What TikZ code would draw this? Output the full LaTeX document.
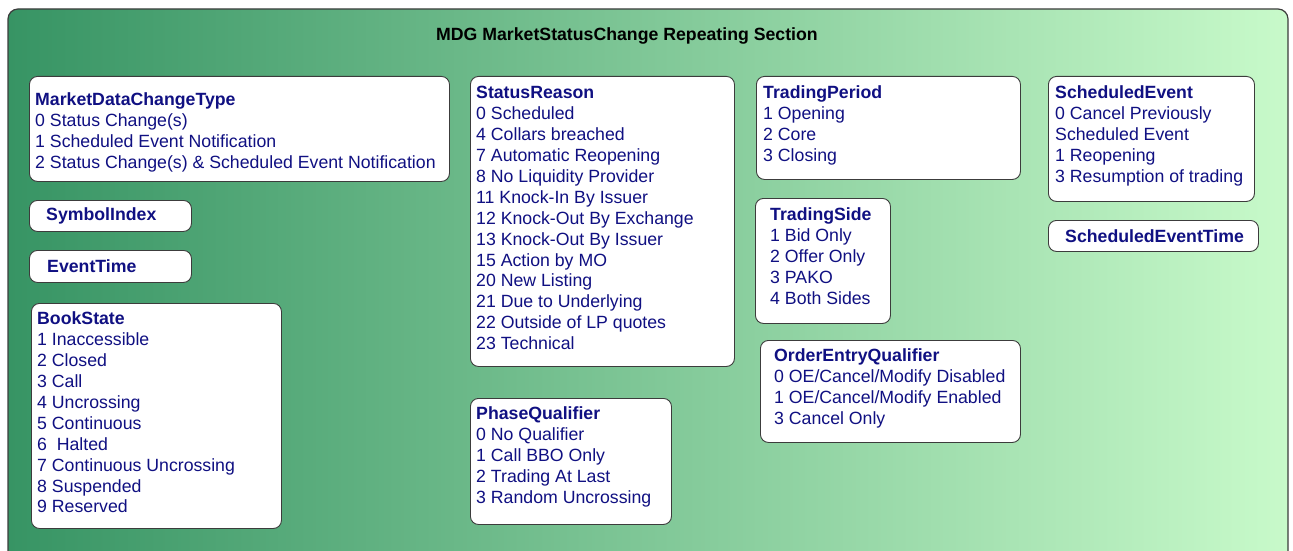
\documentclass[tikz,border=0pt]{standalone}
\usepackage{fontspec}
\setmainfont{Liberation Sans}
\usetikzlibrary{positioning}

\definecolor{mdgblue}{RGB}{16,16,130}
\definecolor{greenL}{RGB}{55,148,100}
\definecolor{greenR}{RGB}{200,250,202}
\definecolor{rimgray}{RGB}{60,60,60}

\newcommand{\hdr}[1]{\strut\textbf{#1}}

\begin{document}
\begin{tikzpicture}[
  x=1pt, y=-1pt,
  section/.style={draw=rimgray, line width=1.2pt, rounded corners=10pt, left color=greenL, right color=greenR},
  panel/.style={draw=rimgray, line width=0.9pt, fill=white, rounded corners=8pt, anchor=north west, inner sep=0pt},
  txt/.style={anchor=north west, inner sep=0pt, align=left, text=mdgblue, font=\fontsize{17.7}{20.9}\selectfont},
  tag/.style={anchor=west, inner sep=0pt, text=mdgblue, font=\fontsize{17.7}{20.9}\selectfont\bfseries},
  title/.style={font=\fontsize{17.7}{20}\selectfont\bfseries, text=black}
]
\useasboundingbox (0,0) rectangle (1293,551);

% Background section
\begin{scope}
  \clip (0,0) rectangle (1293,551);
  \path[section] (8,9) rectangle (1288,580);
\end{scope}
\node[title] (head) at (627,36) {MDG MarketStatusChange Repeating Section};

% Boxes
\node[panel, minimum width=420pt, minimum height=105pt] (chgtype) at (29,76) {};
\node[panel, minimum width=162pt, minimum height=31pt] (symidx) at (29,200) {};
\node[panel, minimum width=162pt, minimum height=32pt] (evtime) at (29,250) {};
\node[panel, minimum width=250pt, minimum height=225pt] (bookst) at (31,303) {};
\node[panel, minimum width=264pt, minimum height=290pt] (statrsn) at (470,76) {};
\node[panel, minimum width=201pt, minimum height=126pt] (phaseq) at (470,398) {};
\node[panel, minimum width=264pt, minimum height=103pt] (tradper) at (756,76) {};
\node[panel, minimum width=135pt, minimum height=125pt] (tradside) at (755,198) {};
\node[panel, minimum width=260pt, minimum height=102pt] (oeq) at (760,340) {};
\node[panel, minimum width=206pt, minimum height=125pt] (schedev) at (1048,76) {};
\node[panel, minimum width=210pt, minimum height=31pt] (schedevt) at (1048,220) {};

% Texts
\node[txt] (chgtype-t) at ([shift={(6,15)}]chgtype.north west)
  {\hdr{MarketDataChangeType}\\0 Status Change(s)\\1 Scheduled Event Notification\\2 Status Change(s) \& Scheduled Event Notification};
\node[tag] (symidx-t) at ([shift={(17,0)}]symidx.west) {SymbolIndex};
\node[tag] (evtime-t) at ([shift={(18,0)}]evtime.west) {EventTime};
\node[txt] (bookst-t) at ([shift={(6,7)}]bookst.north west)
  {\hdr{BookState}\\1 Inaccessible\\2 Closed\\3 Call\\4 Uncrossing\\5 Continuous\\6 \ Halted\\7 Continuous Uncrossing\\8 Suspended\\9 Reserved};
\node[txt] (statrsn-t) at ([shift={(6,8)}]statrsn.north west)
  {\hdr{StatusReason}\\0 Scheduled\\4 Collars breached\\7 Automatic Reopening\\8 No Liquidity Provider\\11 Knock-In By Issuer\\12 Knock-Out By Exchange\\13 Knock-Out By Issuer\\15 Action by MO\\20 New Listing\\21 Due to Underlying\\22 Outside of LP quotes\\23 Technical};
\node[txt] (phaseq-t) at ([shift={(6,7)}]phaseq.north west)
  {\hdr{PhaseQualifier}\\0 No Qualifier\\1 Call BBO Only\\2 Trading At Last\\3 Random Uncrossing};
\node[txt] (tradper-t) at ([shift={(7,8)}]tradper.north west)
  {\hdr{TradingPeriod}\\1 Opening\\2 Core\\3 Closing};
\node[txt] (tradside-t) at ([shift={(15,8)}]tradside.north west)
  {\hdr{TradingSide}\\1 Bid Only\\2 Offer Only\\3 PAKO\\4 Both Sides};
\node[txt] (oeq-t) at ([shift={(14,7)}]oeq.north west)
  {\hdr{OrderEntryQualifier}\\0 OE/Cancel/Modify Disabled\\1 OE/Cancel/Modify Enabled\\3 Cancel Only};
\node[txt] (schedev-t) at ([shift={(7,8)}]schedev.north west)
  {\hdr{ScheduledEvent}\\0 Cancel Previously\\Scheduled Event\\1 Reopening\\3 Resumption of trading};
\node[tag] (schedevt-t) at ([shift={(17,0)}]schedevt.west) {ScheduledEventTime};

\end{tikzpicture}
\end{document}
